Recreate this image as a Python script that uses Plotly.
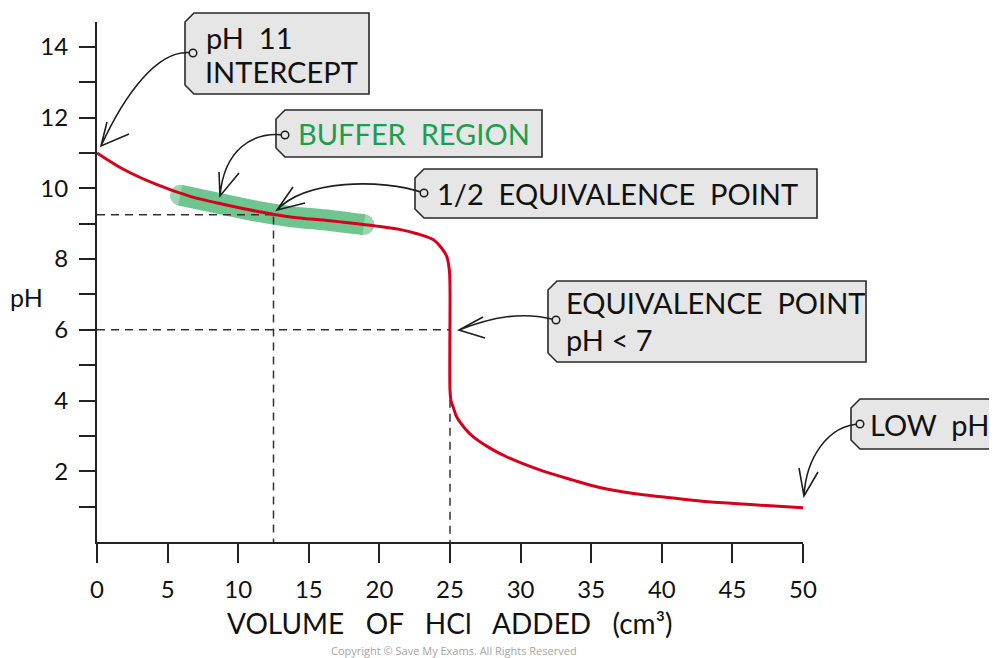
import plotly.graph_objects as go

# ---------------- data ----------------
volume = [0, 1.9, 4.25, 6.6, 9.0, 11.3, 13.7, 16.5, 20.0, 21.5, 22.6, 23.8, 24.4,
          24.77, 24.95, 25.0, 25.0, 25.07, 25.24, 25.47, 26.06, 26.65, 27.8, 29.0,
          31.4, 33.7, 35.6, 38.0, 40.4, 42.7, 45.1, 47.4, 50]
ph = [11.0, 10.53, 10.1, 9.77, 9.54, 9.35, 9.19, 9.08, 8.92, 8.83, 8.72, 8.55, 8.31,
      8.07, 7.7, 7.22, 4.3, 4.0, 3.8, 3.54, 3.21, 2.97, 2.66, 2.41, 2.03, 1.75,
      1.54, 1.37, 1.26, 1.16, 1.09, 1.03, 0.97]

buffer_vol = [5.9, 9, 11.3, 13.7, 16.5, 18.9]
buffer_ph = [9.8, 9.54, 9.35, 9.2, 9.09, 8.97]

half_eq_vol, half_eq_ph = 12.5, 9.25
eq_vol, eq_ph = 25, 6

x_ticks = [0, 5, 10, 15, 20, 25, 30, 35, 40, 45, 50]
y_ticks = list(range(1, 15))
y_ticktext = [str(v) if v % 2 == 0 else "" for v in y_ticks]

# ---------------- layout helpers ----------------
PAGE_W, PAGE_H = 997, 658
BODY = 8                      # default body margin of the html page
W, H = PAGE_W - BODY, PAGE_H - BODY
ML, MR, MT, MB = 97 - BODY, 194, 22 - BODY, 116
PW, PH = W - ML - MR, H - MT - MB
FONT = "Lato"
INK = "#222222"


def fx(px):   # page pixel -> paper x
    return (px - BODY - ML) / PW


def fy(py):   # page pixel -> paper y
    return (H - MB - (py - BODY)) / PH


def tag_path(x0, y0, x1, y1, c=9):
    pts = [(x0 + c, y0), (x1, y0), (x1, y1), (x0 + c, y1), (x0, y1 - c), (x0, y0 + c)]
    return "M " + " L ".join(f"{fx(a):.5f},{fy(b):.5f}" for a, b in pts) + " Z"


def arrow_path(p0, p1, p2, p3, b1, b2):
    s = (f"M {fx(p0[0]):.5f},{fy(p0[1]):.5f} C {fx(p1[0]):.5f},{fy(p1[1]):.5f} "
         f"{fx(p2[0]):.5f},{fy(p2[1]):.5f} {fx(p3[0]):.5f},{fy(p3[1]):.5f} ")
    s += (f"M {fx(b1[0]):.5f},{fy(b1[1]):.5f} L {fx(p3[0]):.5f},{fy(p3[1]):.5f} "
          f"L {fx(b2[0]):.5f},{fy(b2[1]):.5f}")
    return s


fig = go.Figure()

# buffer highlight band
fig.add_trace(go.Scatter(
    x=buffer_vol, y=buffer_ph, mode="lines+markers",
    line=dict(color="#70c48f", width=21, shape="spline"),
    marker=dict(size=[21, 0, 0, 0, 0, 21], color="#70c48f", line=dict(width=0)),
    hoverinfo="skip", showlegend=False, cliponaxis=False))

# dashed guide lines
dash_style = dict(color="#333333", width=1.5, dash="8px,6px")
fig.add_trace(go.Scatter(x=[0, half_eq_vol], y=[half_eq_ph, half_eq_ph], mode="lines",
                         line=dash_style, showlegend=False, hoverinfo="skip"))
fig.add_trace(go.Scatter(x=[half_eq_vol, half_eq_vol], y=[half_eq_ph - 0.05, 0], mode="lines",
                         line=dash_style, showlegend=False, hoverinfo="skip"))
fig.add_trace(go.Scatter(x=[0, eq_vol], y=[eq_ph, eq_ph], mode="lines",
                         line=dash_style, showlegend=False, hoverinfo="skip"))
fig.add_trace(go.Scatter(x=[eq_vol, eq_vol], y=[eq_ph, 0], mode="lines",
                         line=dash_style, showlegend=False, hoverinfo="skip"))

# titration curve
fig.add_trace(go.Scatter(
    x=volume, y=ph, mode="lines",
    line=dict(color="#d5001c", width=3, shape="spline", smoothing=0.9),
    showlegend=False, cliponaxis=False))

shapes = []
annotations = []

boxes = [
    (185, 13, 369, 94),
    (276, 110, 542, 157),
    (415, 169, 817, 218),
    (548, 281, 866, 362),
    (851, 399, 1010, 449),
]
for b in boxes:
    shapes.append(dict(type="path", xref="paper", yref="paper", path=tag_path(*b),
                       fillcolor="#e6e6e6", line=dict(color="#2a2a2a", width=1.6),
                       layer="above"))

arrows = [
    ((193, 53), (158, 47), (124, 96), (101, 146), (129, 134), (107, 122)),
    ((285, 135), (252, 131), (224, 150), (220, 196), (239, 173), (219, 172)),
    ((424, 193), (380, 178), (305, 180), (277, 210), (293, 187), (305, 203)),
    ((556, 320), (522, 311), (492, 317), (459, 330), (483, 317), (485, 338)),
    ((860, 424), (828, 425), (806, 458), (804, 496), (799, 468), (818, 472)),
]
for a in arrows:
    shapes.append(dict(type="path", xref="paper", yref="paper", path=arrow_path(*a),
                       line=dict(color="#1e1e1e", width=1.6), layer="above"))
    px, py = a[0]
    shapes.append(dict(type="circle", xref="paper", yref="paper",
                       x0=fx(px - 3.8), x1=fx(px + 3.8), y0=fy(py + 3.8), y1=fy(py - 3.8),
                       fillcolor="#e6e6e6", line=dict(color="#1e1e1e", width=1.5),
                       layer="above"))


def label(text, px, py, size=29, color="#111111", anchor="left", family=FONT):
    annotations.append(dict(text=text, xref="paper", yref="paper", x=fx(px), y=fy(py),
                            xanchor=anchor, yanchor="middle", showarrow=False,
                            font=dict(family=family, size=size, color=color)))


SP = "\u00a0" * 2
SP3 = "\u00a0" * 3
label(f"pH{SP}11", 204, 37)
label("INTERCEPT", 203, 72)
label(f"BUFFER{SP}REGION", 296, 133, color="#1a9f4e")
label(f"1/2{SP}EQUIVALENCE{SP}POINT", 435, 193)
label(f"EQUIVALENCE{SP}POINT", 564, 302)
label("pH < 7", 564, 339)
label(f"LOW{SP}pH", 868, 424)

label("pH", 26, 297, size=25, anchor="center")
label(f"VOLUME{SP3}OF{SP3}HCl{SP3}ADDED{SP3}(cm³)", 449, 623, size=28, anchor="center")
label("Copyright © Save My Exams. All Rights Reserved", 454, 650, size=11,
      color="#a5a5a5", anchor="center", family="Open Sans")

fig.update_layout(
    width=W, height=H,
    margin=dict(l=ML, r=MR, t=MT, b=MB),
    paper_bgcolor="white", plot_bgcolor="white",
    shapes=shapes, annotations=annotations,
    showlegend=False,
    xaxis=dict(range=[0, 50], tickvals=x_ticks, ticks="outside", ticklen=19, tickwidth=2,
               tickcolor=INK, showline=True, linecolor=INK, linewidth=2, showgrid=False,
               zeroline=False, tickfont=dict(family=FONT, size=24, color="#111"),
               ticklabelstandoff=6, fixedrange=True),
    yaxis=dict(range=[0, 14.7], tickvals=y_ticks, ticktext=y_ticktext, ticks="outside",
               ticklen=16, tickwidth=2, tickcolor=INK, showline=True, linecolor=INK,
               linewidth=2, showgrid=False, zeroline=False,
               tickfont=dict(family=FONT, size=24, color="#111"), ticklabelstandoff=6,
               fixedrange=True),
)

fig.write_html("out.html")
